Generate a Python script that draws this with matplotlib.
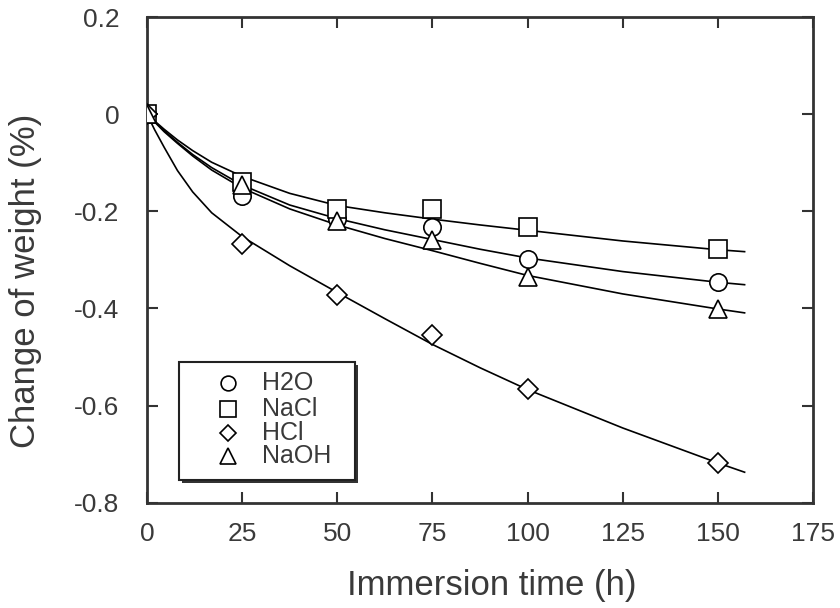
import matplotlib.pyplot as plt
from matplotlib.patches import Rectangle

plt.rcParams['font.family'] = ['Liberation Sans', 'DejaVu Sans']

# measured points
hours = [0, 25, 50, 75, 100, 150]
h2o = [0.0, -0.169, -0.215, -0.233, -0.299, -0.346]
nacl = [0.0, -0.140, -0.196, -0.196, -0.233, -0.278]
hcl = [0.0, -0.268, -0.373, -0.454, -0.565, -0.718]
naoh = [0.0, -0.146, -0.220, -0.258, -0.336, -0.402]

# fitted curves
fit_hours = [0, 2, 4.5, 8, 12, 17, 25, 37.5, 50, 62.5, 75, 87.5, 100, 125, 150, 157]
fit_h2o = [0.0, -0.015, -0.034, -0.058, -0.083, -0.110, -0.146, -0.187, -0.215, -0.238,
           -0.258, -0.278, -0.296, -0.324, -0.346, -0.351]
fit_nacl = [0.0, -0.014, -0.031, -0.053, -0.075, -0.099, -0.128, -0.163, -0.188, -0.203,
            -0.216, -0.228, -0.239, -0.261, -0.279, -0.283]
fit_hcl = [0.0, -0.032, -0.068, -0.116, -0.160, -0.203, -0.252, -0.312, -0.367, -0.421,
           -0.474, -0.522, -0.567, -0.646, -0.718, -0.737]
fit_naoh = [0.0, -0.016, -0.036, -0.060, -0.086, -0.115, -0.152, -0.195, -0.228, -0.256,
            -0.281, -0.307, -0.332, -0.370, -0.401, -0.409]

names = ['H2O', 'NaCl', 'HCl', 'NaOH']
markers = ['o', 's', 'D', '^']
sizes = [12.5, 13, 10, 13]

fig = plt.figure(figsize=(8.4, 6.08), dpi=100)
ax = fig.add_axes([0.175, 0.173, 0.793, 0.799])

for fy in [fit_h2o, fit_nacl, fit_hcl, fit_naoh]:
    ax.plot(fit_hours, fy, color='black', lw=1.2, zorder=2)

mk = dict(ls='none', mfc='white', mec='black', mew=1.2, zorder=3)
for ys, m, s in zip([h2o, nacl, hcl, naoh], markers, sizes):
    ax.plot(hours, ys, marker=m, ms=s, **mk)

ax.set_xlim(0, 175)
ax.set_ylim(-0.8, 0.2)
ax.set_xticks([0, 25, 50, 75, 100, 125, 150, 175])
ax.set_xticklabels(['0', '25', '50', '75', '100', '125', '150', '175'])
ax.set_yticks([-0.8, -0.6, -0.4, -0.2, 0, 0.2])
ax.set_yticklabels(['-0.8', '-0.6', '-0.4', '-0.2', '0', '0.2'])

txt = '#3a3a3a'
ax.tick_params(axis='both', direction='in', length=8, width=1.5, top=True, right=True,
               labelsize=19, labelcolor=txt, color='#333333')
ax.tick_params(axis='y', pad=20)
ax.tick_params(axis='x', pad=14)
for s in ax.spines.values():
    s.set_linewidth(2.0)
    s.set_color('#333333')

ax.set_xlabel('Immersion time (h)', fontsize=25, color=txt)
ax.set_ylabel('Change of weight (%)', fontsize=25, color=txt)
ax.xaxis.set_label_coords(0.517, -0.136)
ax.yaxis.set_label_coords(-0.157, 0.457)

# hand-made legend box with shadow
bx, by, bw, bh = 0.048, 0.047, 0.264, 0.243
ax.add_patch(Rectangle((bx + 0.005, by - 0.007), bw, bh, transform=ax.transAxes,
                       facecolor='#333333', edgecolor='none', zorder=4))
ax.add_patch(Rectangle((bx, by), bw, bh, transform=ax.transAxes,
                       facecolor='white', edgecolor='#222222', lw=1.5, zorder=5))
rows = [0.247, 0.193, 0.144, 0.097]
for name, m, s, ry in zip(names, markers, sizes, rows):
    ax.plot([0.1216], [ry], marker=m, ms=s * 0.85, transform=ax.transAxes,
            ls='none', mfc='white', mec='black', mew=1.2, zorder=6, clip_on=False)
    ax.text(0.1727, ry, name, transform=ax.transAxes, fontsize=18, color=txt,
            va='center', ha='left', zorder=6)

fig.savefig('out.png', dpi=100)
